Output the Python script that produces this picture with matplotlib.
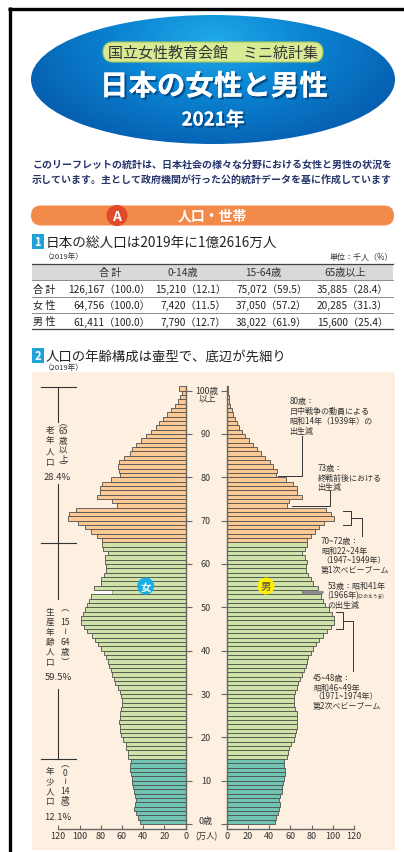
import numpy as np
import matplotlib
matplotlib.use('Agg')
import matplotlib.pyplot as plt
from matplotlib.patches import Ellipse, FancyBboxPatch, Rectangle, Circle
from matplotlib.colors import LinearSegmentedColormap
import matplotlib.patheffects as pe

plt.rcParams['font.family'] = ['Noto Sans CJK JP', 'DejaVu Sans']

# ---------------- data ----------------
ages = list(range(0, 101))   # 100 = 100歳以上
female = [43.5, 45.3, 47.0, 48.3, 48.2, 47.0, 47.5, 48.5, 49.3, 50.2,
          50.7, 51.3, 52.0, 52.0, 51.3, 54.0, 54.2, 55.8, 56.5, 59.0,
          61.3, 61.8, 62.0, 62.4, 62.3, 62.0, 60.6, 59.7, 60.3, 61.2,
          62.0, 64.0, 66.3, 67.5, 69.0, 70.6, 72.6, 73.5, 74.6, 76.5,
          80.2, 83.0, 85.6, 88.7, 93.0, 96.2, 99.0, 98.6, 97.0, 95.0,
          92.6, 91.0, 88.9, 69.0, 86.3, 79.4, 79.4, 77.2, 74.7, 75.4,
          76.3, 75.7, 72.8, 77.9, 78.8, 79.3, 84.0, 89.0, 95.0, 101.0,
          111.0, 109.5, 103.2, 65.0, 69.5, 84.0, 81.0, 81.0, 79.0, 70.6,
          62.2, 63.1, 63.7, 62.8, 58.4, 52.7, 50.2, 46.5, 41.8, 37.0,
          32.3, 28.3, 25.1, 21.4, 17.6, 14.1, 10.4, 7.5, 5.3, 3.5,
          6.0]
male = [45.5, 46.8, 48.2, 49.5, 50.0, 49.5, 50.5, 51.8, 52.4, 53.4,
        54.3, 55.0, 55.3, 54.2, 54.0, 56.6, 58.1, 59.0, 60.3, 63.5,
        64.4, 65.4, 66.0, 66.0, 66.6, 66.0, 64.4, 63.8, 63.8, 63.8,
        64.7, 66.0, 67.5, 69.1, 70.7, 72.8, 75.0, 76.0, 77.0, 79.5,
        81.6, 84.5, 87.0, 91.0, 94.5, 98.0, 101.4, 101.0, 99.0, 96.0,
        92.6, 91.0, 88.5, 70.6, 86.0, 81.6, 79.0, 76.9, 74.5, 74.7,
        75.4, 74.0, 70.6, 73.5, 75.4, 75.4, 79.0, 83.0, 87.0, 92.0,
        101.5, 98.5, 93.5, 56.5, 59.0, 70.7, 66.0, 66.0, 62.8, 55.5,
        46.5, 47.5, 44.0, 41.0, 36.5, 32.3, 28.3, 25.0, 21.0, 17.3,
        14.5, 12.0, 10.0, 7.8, 6.0, 4.7, 3.5, 2.6, 1.8, 1.2,
        0.9]
group_colors = {'young': '#6fc5b1', 'work': '#cfe3a9', 'old': '#fcc994'}

table_cols = ['合 計', '0-14歳', '15-64歳', '65歳以上']
table_rows = ['合 計', '女 性', '男 性']
table_values = [[126167, 15210, 75072, 35885],
                [64756, 7420, 37050, 20285],
                [61411, 7790, 38022, 15600]]
table_pcts = [[100.0, 12.1, 59.5, 28.4],
              [100.0, 11.5, 57.2, 31.3],
              [100.0, 12.7, 61.9, 25.4]]

xticks = [0, 20, 40, 60, 80, 100, 120]
yticks = [10, 20, 30, 40, 50, 60, 70, 80, 90]

# ---------------- figure ----------------
W, H = 404, 853
fig = plt.figure(figsize=(W / 100, H / 100), dpi=100)
fig.patch.set_facecolor('white')

bg = fig.add_axes([0, 0, 1, 1])
bg.set_xlim(0, W); bg.set_ylim(H, 0); bg.axis('off')

# frame
bg.plot([9.5, 9.5], [8, H], color='black', lw=2.4, solid_capstyle='butt')
bg.plot([8, W], [9.5, 9.5], color='black', lw=2.4, solid_capstyle='butt')

# blue ellipse with gradient
ell = Ellipse((213, 80.5), 364, 129, facecolor='none', edgecolor='none')
bg.add_patch(ell)
yy, xx = np.mgrid[16:146, 31:396]
r = np.sqrt(((xx - 213) / 200.0) ** 2 + ((yy - 42) / 110.0) ** 2)
cmap = LinearSegmentedColormap.from_list('b', ['#20aaea', '#0a82d0', '#0760b2'])
im = bg.imshow(r, extent=(31, 396, 146, 16), cmap=cmap, vmin=0, vmax=1.0,
               aspect='auto', interpolation='bilinear')
im.set_clip_path(ell)

# green pill
pill = FancyBboxPatch((103, 43), 220, 20, boxstyle='round,pad=0,rounding_size=10',
                      facecolor='#d8ea94', edgecolor='#a8c85c', lw=0.8)
bg.add_patch(pill)
bg.text(213, 53.5, '国立女性教育会館　ミニ統計集', ha='center', va='center',
        fontsize=10.8, color='#333333')

title_fx = [pe.withSimplePatchShadow(offset=(1.5, -1.5), shadow_rgbFace='#003a70', alpha=0.7),
            pe.Normal()]
bg.text(214, 88, '日本の女性と男性', ha='center', va='center', fontsize=20.5,
        fontweight='bold', color='white', path_effects=title_fx)
bg.text(213, 121, '2021年', ha='center', va='center', fontsize=13.5,
        fontweight='bold', color='white', path_effects=title_fx)

# paragraph
bg.text(32, 164.5, 'このリーフレットの統計は、日本社会の様々な分野における女性と男性の状況を',
        ha='left', va='center', fontsize=7.2, fontweight='bold', color='#25356a')
bg.text(32, 180.5, '示しています。主として政府機関が行った公的統計データを基に作成しています',
        ha='left', va='center', fontsize=7.2, fontweight='bold', color='#25356a')

# orange band
band = FancyBboxPatch((31, 206.5), 363, 20, boxstyle='round,pad=0,rounding_size=10',
                      facecolor='#f28b4a', edgecolor='none')
bg.add_patch(band)
bg.add_patch(Circle((117, 216.5), 10.5, facecolor='#df4a2a', edgecolor='none'))
bg.text(117, 217, 'A', ha='center', va='center', fontsize=10, fontweight='bold', color='white')
bg.text(212, 216.5, '人口・世帯', ha='center', va='center', fontsize=10,
        fontweight='bold', color='white')

# heading 1
bg.add_patch(Rectangle((32, 235), 11.5, 14.5, facecolor='#1ea3d9', edgecolor='none'))
bg.text(37.8, 242.5, '1', ha='center', va='center', fontsize=8, fontweight='bold', color='white')
bg.text(45.5, 242.5, '日本の総人口は2019年に1億2616万人', ha='left', va='center',
        fontsize=9.8, color='#222222')
bg.text(44, 256.5, '（2019年）', ha='left', va='center', fontsize=5.5, color='#333333')
bg.text(393, 257.5, '単位：千人（%）', ha='right', va='center', fontsize=5.8, color='#333333')

# table
bg.add_patch(Rectangle((32, 265), 361, 16, facecolor='#d9d9d9', edgecolor='none'))
bg.plot([32, 393], [265, 265], color='#444444', lw=0.9)
bg.plot([32, 393], [281, 281], color='#777777', lw=0.6)
bg.plot([32, 393], [297.5, 297.5], color='#777777', lw=0.6)
bg.plot([32, 393], [313.7, 313.7], color='#777777', lw=0.6)
bg.plot([32, 393], [330, 330], color='#444444', lw=0.9)
col_head_x = [110, 183, 263, 345]
col_right_x = [150, 226, 307, 388]
row_y = [289.5, 306, 322.3]
for cx, lab in zip(col_head_x, table_cols):
    bg.text(cx, 273.3, lab, ha='center', va='center', fontsize=7.3, color='#333333')
for ri, (rl, vals, pcts) in enumerate(zip(table_rows, table_values, table_pcts)):
    bg.text(33, row_y[ri], rl, ha='left', va='center', fontsize=7.3, color='#222222')
    for ci in range(4):
        bg.text(col_right_x[ci], row_y[ri], f'{vals[ci]:,}（{pcts[ci]:.1f}）', ha='right',
                va='center', fontsize=7.3, color='#222222')

# heading 2
bg.add_patch(Rectangle((32, 349), 11.5, 14.5, facecolor='#1ea3d9', edgecolor='none'))
bg.text(37.8, 356.5, '2', ha='center', va='center', fontsize=8, fontweight='bold', color='white')
bg.text(45.5, 356.5, '人口の年齢構成は壷型で、底辺が先細り', ha='left', va='center',
        fontsize=9.6, color='#222222')
bg.text(44, 368, '（2019年）', ha='left', va='center', fontsize=5.5, color='#333333')

# cream panel
bg.add_patch(Rectangle((32, 372.5), 363, 478, facecolor='#fdf0e0', edgecolor='none'))

# ---------------- pyramid ----------------
def col_for(a):
    if a < 15:
        return group_colors['young']
    if a < 65:
        return group_colors['work']
    return group_colors['old']

colors = [col_for(a) for a in ages]
ax_bottom = (H - 830) / H
ax_height = 442.7 / H
axL = fig.add_axes([58.3 / W, ax_bottom, 127.4 / W, ax_height])
axR = fig.add_axes([226.7 / W, ax_bottom, 127.3 / W, ax_height])
for ax in (axL, axR):
    ax.set_facecolor('none')
    ax.set_ylim(-1.15, 101)
    ax.set_yticks([0] + yticks + [100])
    ax.set_xticks(xticks)
    ax.tick_params(axis='x', direction='in', length=3, width=0.8, color='#666666',
                   labelsize=6.5, labelcolor='#333333', pad=1.5)
    ax.tick_params(axis='y', direction='out', length=4, width=0.8, color='#666666')
    for s in ax.spines.values():
        s.set_color('#666666'); s.set_linewidth(1.0)
    ax.spines['top'].set_visible(False)

axL.set_xlim(120, 0)
axL.spines['left'].set_visible(False)
axL.yaxis.tick_right()
axL.tick_params(axis='y', labelright=False, labelleft=False)
axR.set_xlim(0, 120)
axR.spines['right'].set_visible(False)
axR.tick_params(axis='y', labelleft=False)

axL.barh(ages, female, height=1, align='edge', color=colors, edgecolor='#505050', linewidth=0.6)
axR.barh(ages, male, height=1, align='edge', color=colors, edgecolor='#505050', linewidth=0.6)

# 1966 emphasis lines
axL.plot([female[53], female[54]], [53.5, 53.5], color='white', lw=1.8, solid_capstyle='butt')
axR.plot([male[53], 91], [53.5, 53.5], color='#8c8c8c', lw=2.4, solid_capstyle='butt',
         clip_on=False)

# middle age labels
ytr = axR.get_yaxis_transform()
for a in yticks:
    axR.text(-0.1626, a, str(a), transform=ytr, ha='center', va='center', fontsize=6.5,
             color='#333333')
axR.text(-0.1626, 0.9, '0歳', transform=ytr, ha='center', va='center', fontsize=6.5, color='#333333')
axR.text(-0.155, 100.1, '100歳', transform=ytr, ha='center', va='center', fontsize=6.3, color='#333333')
axR.text(-0.155, 98.3, '以上', transform=ytr, ha='center', va='center', fontsize=6.3, color='#333333')

# ---------------- foreground annotations ----------------
fg = fig.add_axes([0, 0, 1, 1])
fg.set_facecolor('none')
fg.set_xlim(0, W); fg.set_ylim(H, 0); fg.axis('off')

fg.text(206.5, 836.5, '(万人)', ha='center', va='center', fontsize=6, color='#333333')

# icons
fg.add_patch(Circle((145.7, 587), 8.5, facecolor='#17aee6', edgecolor='none'))
fg.text(145.7, 587.3, '女', ha='center', va='center', fontsize=7.5, fontweight='bold', color='white')
fg.add_patch(Circle((266, 587), 8.5, facecolor='#fff000', edgecolor='none'))
fg.text(266, 587.3, '男', ha='center', va='center', fontsize=7.5, fontweight='bold', color='#7d6c2e')

# left group brackets
lc = '#333333'
for y0, y1 in [(388, 423), (485, 544), (544, 600), (690, 760)]:
    fg.plot([58.3, 58.3], [y0, y1], color=lc, lw=0.8)
for yc in [388, 544, 760]:
    fg.plot([41, 76], [yc, yc], color=lc, lw=0.8)

def vstack(x, ys, chars, fs=6.2):
    for y, c in zip(ys, chars):
        fg.text(x, y, c, ha='center', va='center', fontsize=fs, color='#333333')

vstack(50, [430, 441, 451.5, 462.5], ['老', '年', '人', '口'])
vstack(63.5, [424, 432, 441.5, 450.5, 459.5, 467], ['︵', '65', '歳', '以', '上', '︶'])
fg.text(57.5, 477.5, '28.4%', ha='center', va='center', fontsize=6.8, color='#333333')

vstack(50, [613, 622, 632, 642, 652, 662], ['生', '産', '年', '齢', '人', '口'])
vstack(65, [609, 622.5, 631, 642.5, 653, 662], ['︵', '15', '≀', '64', '歳', '︶'])
fg.text(58, 677, '59.5%', ha='center', va='center', fontsize=6.8, color='#333333')

vstack(50, [771.5, 781.5, 791.5, 801.5], ['年', '少', '人', '口'])
vstack(65, [765, 773.5, 781.5, 791.5, 800.5, 808.5], ['︵', '0', '≀', '14', '歳', '︶'])
fg.text(57.5, 817.5, '12.1%', ha='center', va='center', fontsize=6.8, color='#333333')

# right annotations
ac = '#333333'
afs = 5.8
fg.plot([278, 301.7, 301.7], [477.3, 477.3, 437], color=ac, lw=0.7)
for y, t in zip([401.7, 411.7, 421.7, 431.7],
                ['80歳：', '日中戦争の動員による', '昭和14年（1939年）の', '出生減']):
    fg.text(289.5, y, t, ha='left', va='center', fontsize=afs, color=ac)

fg.plot([291.7, 330, 330], [506.7, 506.7, 491.7], color=ac, lw=0.7)
for y, t in zip([468, 478, 487.5], ['73歳：', '終戦前後における', '出生減']):
    fg.text(317.5, y, t, ha='left', va='center', fontsize=afs, color=ac)

fg.plot([343.3, 350.7, 350.7, 343.3], [511.7, 511.7, 526, 526], color=ac, lw=0.7)
fg.plot([350.7, 361.7, 361.7], [519, 519, 536.7], color=ac, lw=0.7)
for y, t in zip([541.7, 551.7, 561, 570.5],
                ['70~72歳：', '昭和22~24年', '（1947~1949年）', '第1次ベビーブーム']):
    fg.text(321, y, t, ha='left', va='center', fontsize=afs, color=ac)

for y, t in zip([586.7, 596, 605.5], ['53歳：昭和41年', '(1966年)', 'の出生減']):
    fg.text(327.5, y, t, ha='left', va='center', fontsize=afs, color=ac)
fg.text(357.5, 596.3, '(ひのえうま)', ha='left', va='center', fontsize=3.4, color=ac)

fg.plot([336, 342.7, 342.7, 336], [613.3, 613.3, 630, 630], color=ac, lw=0.7)
fg.plot([342.7, 353.3, 353.3], [622.3, 622.3, 671.7], color=ac, lw=0.7)
for y, t in zip([679, 688, 697, 706.5],
                ['45~48歳：', '昭和46~49年', '（1971~1974年）', '第2次ベビーブーム']):
    fg.text(313, y, t, ha='left', va='center', fontsize=afs, color=ac)

fig.savefig('out.png', dpi=100, facecolor='white')
